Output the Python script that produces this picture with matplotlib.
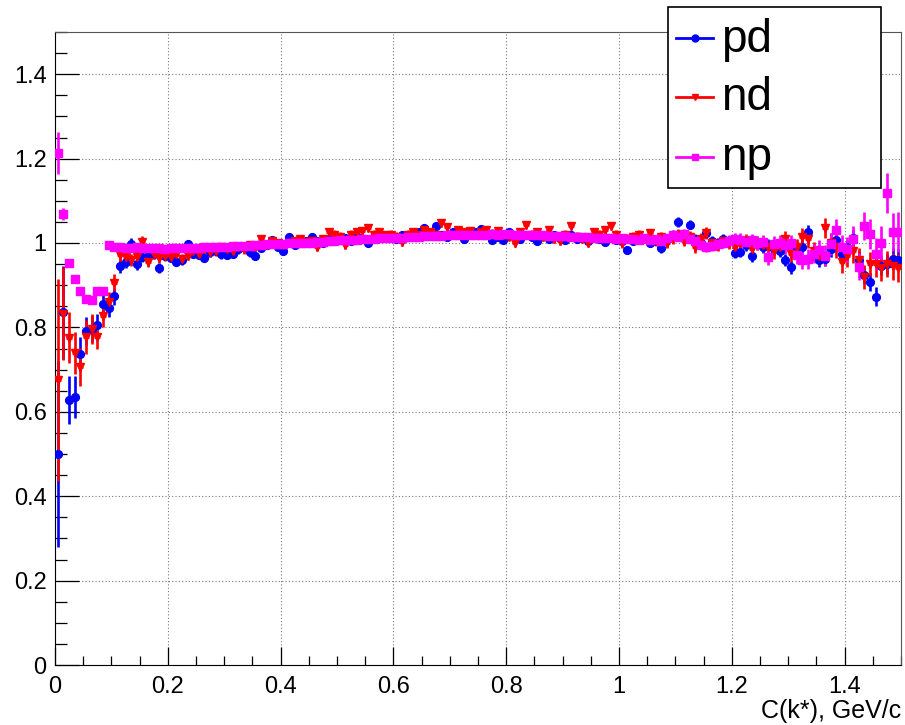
import numpy as np
import matplotlib
matplotlib.use("Agg")
import matplotlib.pyplot as plt
from matplotlib.lines import Line2D
from matplotlib.patches import Rectangle
from matplotlib.ticker import MultipleLocator, FuncFormatter

plt.rcParams["font.family"] = ["Liberation Sans", "DejaVu Sans"]

# histogram binning: 150 bins of 0.01 GeV/c
bin_width = 0.01
n_bins = 150
k_centers = bin_width * (np.arange(n_bins) + 0.5)

pd_val = [
    0.500, 0.836, 0.628, 0.636, 0.737, 0.791, 0.796, 0.805, 0.855, 0.846,
    0.874, 0.945, 0.956, 0.998, 0.950, 0.967, 0.970, 0.975, 0.941, 0.970,
    0.965, 0.956, 0.960, 0.998, 0.975, 0.972, 0.965, 0.978, 0.982, 0.973,
    0.972, 0.975, 0.985, 0.990, 0.978, 0.970, 0.988, 0.995, 1.007, 0.990,
    0.980, 1.014, 0.995, 1.000, 1.005, 1.014, 1.005, 1.000, 1.010, 1.005,
    1.008, 1.012, 1.005, 1.015, 1.010, 1.000, 1.012, 1.023, 1.018, 1.015,
    1.010, 1.020, 1.015, 1.020, 1.025, 1.036, 1.020, 1.040, 1.020, 1.015,
    1.025, 1.018, 1.010, 1.020, 1.025, 1.034, 1.020, 1.008, 1.015, 1.007,
    1.025, 1.015, 1.010, 1.020, 1.015, 1.005, 1.018, 1.010, 1.020, 1.012,
    1.008, 1.020, 1.010, 1.012, 1.005, 1.015, 1.010, 1.002, 1.012, 1.008,
    1.005, 0.984, 1.005, 1.010, 1.012, 1.000, 1.005, 0.987, 1.010, 1.020,
    1.050, 1.020, 1.043, 1.010, 1.000, 1.023, 1.005, 1.000, 1.010, 1.005,
    0.976, 0.978, 0.995, 0.969, 1.000, 0.990, 0.995, 0.985, 0.980, 0.960,
    0.942, 0.985, 0.990, 1.027, 0.975, 0.960, 0.963, 0.985, 1.007, 0.975,
    0.990, 1.012, 0.960, 0.924, 0.908, 0.873, 0.945, 0.950, 0.963, 0.960,
]
pd_err = [
    0.220, 0.110, 0.057, 0.050, 0.040, 0.033, 0.030, 0.027, 0.024, 0.022,
    0.020, 0.017, 0.015, 0.014, 0.013, 0.013, 0.012, 0.012, 0.012, 0.011,
    0.011, 0.011, 0.011, 0.010, 0.010, 0.010, 0.010, 0.010, 0.010, 0.010,
    0.010, 0.010, 0.010, 0.010, 0.010, 0.010, 0.010, 0.010, 0.010, 0.010,
    0.009, 0.009, 0.009, 0.009, 0.009, 0.009, 0.009, 0.009, 0.009, 0.009,
    0.009, 0.009, 0.009, 0.009, 0.009, 0.009, 0.009, 0.009, 0.009, 0.009,
    0.009, 0.009, 0.009, 0.009, 0.009, 0.009, 0.009, 0.009, 0.009, 0.009,
    0.009, 0.009, 0.009, 0.009, 0.009, 0.009, 0.009, 0.009, 0.009, 0.009,
    0.009, 0.009, 0.009, 0.009, 0.009, 0.009, 0.009, 0.009, 0.009, 0.009,
    0.009, 0.009, 0.009, 0.009, 0.009, 0.009, 0.009, 0.009, 0.009, 0.009,
    0.010, 0.010, 0.010, 0.010, 0.010, 0.010, 0.010, 0.010, 0.010, 0.010,
    0.011, 0.011, 0.011, 0.011, 0.011, 0.011, 0.011, 0.011, 0.012, 0.012,
    0.012, 0.012, 0.013, 0.013, 0.013, 0.013, 0.014, 0.014, 0.014, 0.014,
    0.015, 0.015, 0.016, 0.016, 0.016, 0.017, 0.017, 0.017, 0.018, 0.018,
    0.018, 0.019, 0.020, 0.020, 0.021, 0.022, 0.022, 0.023, 0.024, 0.025,
]

nd_val = [
    0.675, 0.832, 0.776, 0.739, 0.707, 0.778, 0.796, 0.778, 0.827, 0.861,
    0.906, 0.972, 0.967, 0.960, 0.967, 1.003, 0.956, 0.975, 0.965, 0.970,
    0.968, 0.975, 0.962, 0.970, 0.980, 0.975, 0.985, 0.978, 0.980, 0.990,
    0.985, 0.982, 0.990, 0.985, 0.995, 0.990, 1.010, 0.995, 1.005, 1.000,
    0.995, 1.000, 1.005, 1.010, 1.002, 1.005, 0.990, 1.010, 1.025, 1.020,
    1.015, 0.995, 1.020, 1.025, 1.029, 1.035, 1.020, 1.025, 1.018, 1.020,
    1.015, 1.002, 1.020, 1.025, 1.020, 1.030, 1.025, 1.020, 1.047, 1.038,
    1.020, 1.030, 1.025, 1.028, 1.020, 1.025, 1.030, 1.022, 1.028, 1.020,
    1.015, 1.000, 1.025, 1.043, 1.020, 1.025, 1.015, 1.030, 1.010, 1.005,
    1.020, 1.040, 1.015, 1.010, 1.000, 1.025, 1.020, 1.030, 1.040, 1.020,
    1.000, 1.010, 1.015, 1.020, 1.010, 1.023, 1.005, 1.015, 1.000, 1.010,
    1.020, 1.005, 1.015, 0.990, 1.010, 1.023, 1.000, 0.995, 1.005, 1.000,
    0.990, 1.000, 1.005, 0.985, 1.000, 0.995, 0.990, 0.980, 0.990, 1.010,
    0.975, 0.990, 1.015, 1.010, 0.980, 0.970, 1.035, 1.000, 0.990, 0.955,
    0.970, 0.980, 0.960, 0.920, 0.950, 0.950, 0.940, 0.950, 0.945, 0.940,
]
nd_err = [
    0.240, 0.110, 0.060, 0.050, 0.045, 0.040, 0.035, 0.030, 0.026, 0.022,
    0.020, 0.018, 0.016, 0.015, 0.014, 0.014, 0.013, 0.013, 0.013, 0.012,
    0.012, 0.012, 0.012, 0.011, 0.011, 0.011, 0.011, 0.011, 0.011, 0.011,
    0.011, 0.011, 0.010, 0.010, 0.010, 0.010, 0.010, 0.010, 0.010, 0.010,
    0.010, 0.010, 0.010, 0.010, 0.010, 0.010, 0.010, 0.010, 0.010, 0.010,
    0.010, 0.010, 0.010, 0.010, 0.010, 0.010, 0.010, 0.010, 0.010, 0.010,
    0.010, 0.010, 0.010, 0.010, 0.010, 0.010, 0.010, 0.010, 0.010, 0.010,
    0.010, 0.010, 0.010, 0.010, 0.010, 0.010, 0.010, 0.010, 0.010, 0.010,
    0.010, 0.010, 0.010, 0.010, 0.010, 0.010, 0.010, 0.010, 0.010, 0.010,
    0.010, 0.010, 0.010, 0.010, 0.010, 0.010, 0.010, 0.010, 0.010, 0.010,
    0.011, 0.011, 0.011, 0.011, 0.011, 0.011, 0.012, 0.012, 0.012, 0.012,
    0.012, 0.013, 0.013, 0.013, 0.013, 0.014, 0.014, 0.014, 0.015, 0.015,
    0.015, 0.016, 0.016, 0.017, 0.017, 0.017, 0.018, 0.018, 0.019, 0.019,
    0.020, 0.020, 0.021, 0.022, 0.022, 0.023, 0.024, 0.024, 0.025, 0.026,
    0.026, 0.027, 0.028, 0.028, 0.029, 0.030, 0.030, 0.031, 0.032, 0.033,
]

np_val = [
    1.213, 1.069, 0.953, 0.914, 0.887, 0.868, 0.866, 0.886, 0.886, 0.995,
    0.990, 0.990, 0.989, 0.988, 0.990, 0.988, 0.987, 0.988, 0.987, 0.986,
    0.987, 0.987, 0.988, 0.988, 0.989, 0.989, 0.990, 0.990, 0.991, 0.990,
    0.991, 0.992, 0.992, 0.993, 0.994, 0.995, 0.996, 0.997, 0.997, 0.998,
    0.998, 0.999, 1.000, 1.000, 1.001, 1.001, 1.002, 1.003, 1.004, 1.005,
    1.006, 1.007, 1.006, 1.008, 1.009, 1.010, 1.010, 1.011, 1.012, 1.012,
    1.013, 1.013, 1.014, 1.015, 1.015, 1.016, 1.016, 1.017, 1.017, 1.018,
    1.018, 1.018, 1.019, 1.019, 1.020, 1.020, 1.020, 1.021, 1.020, 1.021,
    1.021, 1.020, 1.020, 1.019, 1.019, 1.018, 1.018, 1.017, 1.017, 1.016,
    1.016, 1.015, 1.015, 1.014, 1.014, 1.013, 1.012, 1.011, 1.012, 1.010,
    1.011, 1.009, 1.010, 1.008, 1.012, 1.006, 1.010, 1.005, 1.012, 1.018,
    1.015, 1.022, 1.010, 1.005, 0.995, 0.990, 0.992, 0.998, 1.000, 1.005,
    1.010, 1.008, 1.002, 1.006, 1.000, 1.003, 0.967, 0.998, 1.000, 0.995,
    1.000, 0.972, 0.960, 0.962, 0.975, 0.984, 0.970, 0.998, 1.030, 0.990,
    0.985, 1.010, 0.944, 1.040, 1.022, 0.975, 1.000, 1.118, 1.026, 1.026,
]
np_err = [
    0.050, 0.015, 0.008, 0.006, 0.005, 0.005, 0.005, 0.005, 0.005, 0.005,
    0.005, 0.005, 0.005, 0.005, 0.005, 0.005, 0.005, 0.005, 0.005, 0.005,
    0.005, 0.005, 0.005, 0.005, 0.005, 0.005, 0.005, 0.005, 0.005, 0.005,
    0.005, 0.005, 0.005, 0.005, 0.005, 0.005, 0.005, 0.005, 0.005, 0.005,
    0.005, 0.005, 0.005, 0.005, 0.005, 0.005, 0.005, 0.005, 0.005, 0.005,
    0.005, 0.005, 0.005, 0.005, 0.005, 0.005, 0.005, 0.005, 0.005, 0.005,
    0.005, 0.005, 0.005, 0.005, 0.005, 0.005, 0.005, 0.005, 0.005, 0.005,
    0.005, 0.005, 0.005, 0.005, 0.005, 0.005, 0.005, 0.005, 0.005, 0.005,
    0.006, 0.006, 0.006, 0.006, 0.006, 0.006, 0.006, 0.006, 0.006, 0.006,
    0.006, 0.006, 0.006, 0.006, 0.006, 0.007, 0.007, 0.007, 0.007, 0.007,
    0.007, 0.007, 0.008, 0.008, 0.008, 0.008, 0.009, 0.009, 0.009, 0.010,
    0.010, 0.010, 0.011, 0.011, 0.011, 0.012, 0.012, 0.013, 0.013, 0.014,
    0.014, 0.015, 0.015, 0.016, 0.016, 0.017, 0.018, 0.018, 0.019, 0.020,
    0.020, 0.021, 0.022, 0.023, 0.023, 0.024, 0.025, 0.026, 0.027, 0.028,
    0.029, 0.030, 0.032, 0.034, 0.036, 0.038, 0.040, 0.047, 0.045, 0.048,
]

series_names = ["pd", "nd", "np"]
series_colors = ["#0000ff", "#ff0000", "#ff00ff"]
series_markers = ["o", "v", "s"]

W, H = 905, 725


def fx(x):
    return x / W


def fy(y):
    return 1 - y / H


fig = plt.figure(figsize=(W / 100, H / 100), dpi=100)
ax = fig.add_axes([fx(55), fy(665), fx(901) - fx(55), fy(32) - fy(665)])

for vals, errs, col, mk in zip([pd_val, nd_val, np_val],
                               [pd_err, nd_err, np_err],
                               series_colors, series_markers):
    ax.errorbar(k_centers, vals, yerr=errs, xerr=bin_width / 2,
                fmt=mk, color=col, ms=5.6, mec=col, mfc=col,
                elinewidth=1.9, capsize=0, zorder=3)

ax.set_xlim(0, 1.5)
ax.set_ylim(0, 1.5)

ax.xaxis.set_major_locator(MultipleLocator(0.2))
ax.xaxis.set_minor_locator(MultipleLocator(0.05))
ax.yaxis.set_major_locator(MultipleLocator(0.2))
ax.yaxis.set_minor_locator(MultipleLocator(0.05))
fmt = FuncFormatter(lambda v, p: f"{v:.1f}".rstrip("0").rstrip("."))
ax.xaxis.set_major_formatter(fmt)
ax.yaxis.set_major_formatter(fmt)

ax.tick_params(axis="x", which="major", direction="in", length=13, width=0.9,
               labelsize=17, pad=8)
ax.tick_params(axis="x", which="minor", direction="in", length=6.5, width=0.9)
ax.tick_params(axis="y", which="major", direction="in", length=17, width=0.9,
               labelsize=17, pad=6)
ax.tick_params(axis="y", which="minor", direction="in", length=8.5, width=0.9)

ax.grid(True, which="major", color="#777777", linestyle=(0, (1, 2)), linewidth=0.8)
ax.set_axisbelow(True)
for s in ["top", "right"]:
    ax.spines[s].set_color("#555555")
for s in ["left", "bottom"]:
    ax.spines[s].set_color("black")

fig.text(fx(901), fy(718), "C(k*), GeV/c", ha="right", va="baseline", fontsize=18)

# legend box (drawn in figure pixels, like the ROOT TLegend)
fig.add_artist(Rectangle((fx(668), fy(188)), fx(881) - fx(668), fy(7) - fy(188),
                         transform=fig.transFigure, facecolor="white",
                         edgecolor="black", linewidth=1.2, zorder=10))
for name, col, mk, ly in zip(series_names, series_colors, series_markers, [37.5, 96.5, 156.5]):
    fig.add_artist(Line2D([fx(676), fx(713)], [fy(ly), fy(ly)], transform=fig.transFigure,
                          color=col, lw=2, zorder=11))
    fig.add_artist(Line2D([fx(694.5)], [fy(ly)], transform=fig.transFigure,
                          color=col, marker=mk, ms=5, linestyle="none", zorder=12))
    fig.text(fx(721), fy(ly + 2), name, ha="left", va="center", fontsize=33, zorder=12)

fig.savefig("out.png", dpi=100, facecolor="white")
